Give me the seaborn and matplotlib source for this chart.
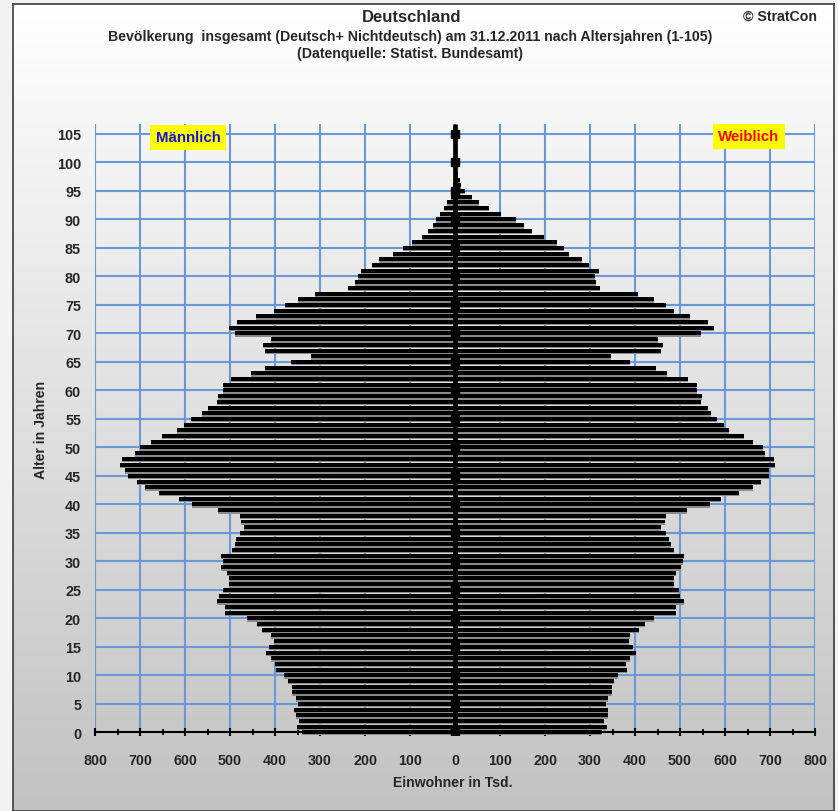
import matplotlib
matplotlib.use("Agg")
import matplotlib.pyplot as plt
import numpy as np
import pandas as pd
import seaborn as sns
from matplotlib.ticker import MultipleLocator

ages = list(range(0, 106))

# Einwohner in Tsd.
male = [340, 351, 346, 354, 357, 348, 354, 363, 363, 371,
        380, 397, 400, 408, 420, 414, 402, 408, 428, 440,
        463, 512, 512, 529, 524, 515, 503, 503, 506, 521,
        516, 521, 495, 489, 487, 478, 470, 475, 478, 527,
        584, 613, 658, 690, 707, 727, 733, 744, 739, 712,
        699, 676, 652, 618, 603, 587, 563, 548, 529, 526,
        515, 515, 498, 454, 422, 365, 320, 422, 426, 409,
        488, 503, 485, 442, 402, 378, 348, 311, 237, 223,
        215, 209, 185, 168, 137, 115, 96, 74, 59, 50,
        42, 33, 24, 17, 10, 5, 4, 3, 2, 1.5,
        1, 0.6, 0.4, 0.3, 0.2, 0.1]
female = [326, 337, 332, 340, 340, 335, 340, 349, 349, 354,
          363, 383, 380, 389, 403, 395, 386, 389, 409, 423,
          443, 492, 492, 509, 500, 498, 486, 486, 492, 503,
          506, 509, 486, 480, 475, 469, 457, 466, 469, 515,
          566, 592, 632, 663, 680, 698, 698, 712, 709, 689,
          684, 663, 643, 609, 598, 583, 569, 563, 546, 549,
          537, 537, 517, 472, 446, 388, 346, 457, 463, 452,
          546, 575, 563, 523, 486, 469, 443, 406, 323, 314,
          311, 320, 297, 283, 254, 242, 226, 198, 171, 154,
          135, 102, 76, 53, 37, 22, 13, 10, 7, 5,
          4, 2, 1.5, 1, 0.5, 0.3]

x_ticks = list(range(-800, 801, 100))
y_ticks = list(range(0, 106, 5))

sns.set_style("white")
plt.rcParams["font.family"] = ["Liberation Sans", "DejaVu Sans"]
plt.rcParams["font.weight"] = "bold"

df = pd.DataFrame({"age": ages, "male": male, "female": female})
df["male_neg"] = -df["male"]
df["shadow_y"] = df["age"] - 0.25

W, H = 838, 812
fig = plt.figure(figsize=(W / 100, H / 100), dpi=100)
fig.patch.set_facecolor("#f3f3f3")

# chart area with vertical grey gradient and frame
bg = fig.add_axes([13 / W, 0, (834 - 13) / W, 1 - 5 / H])
grad = np.linspace(0, 1, 256).reshape(-1, 1)
bg.imshow(grad, cmap=matplotlib.colors.LinearSegmentedColormap.from_list(
    "g", ["#ffffff", "#c2c2c2"]), aspect="auto", extent=[0, 1, 0, 1])
bg.set_xticks([])
bg.set_yticks([])
for s in bg.spines.values():
    s.set_color("#3c3c3c")
    s.set_linewidth(1.2)

ax = fig.add_axes([95 / W, 0.09335, 720 / W, 0.7527])
ax.set_facecolor("none")

grid_col = "#6a98d4"
for v in x_ticks:
    ax.axvline(v, color=grid_col, lw=1.5, zorder=0)
for v in y_ticks[1:]:
    ax.axhline(v, color=grid_col, lw=1.5, zorder=0)

# shadows then bars
for col in ["male_neg", "female"]:
    sns.barplot(data=df, x=col, y="shadow_y", orient="y", native_scale=True,
                width=0.7, color="#8a8a8a", saturation=1, errorbar=None,
                linewidth=0, ax=ax, zorder=2)
    sns.barplot(data=df, x=col, y="age", orient="y", native_scale=True,
                width=0.7, color="black", saturation=1, errorbar=None,
                linewidth=0, ax=ax, zorder=3)

top = 106.75
ax.set_xlim(-800, 800)
ax.set_ylim(-0.5, top)

# central age axis
ax.vlines(0, 0, top, color="black", lw=3.4, zorder=5)
ax.plot(np.zeros(len(y_ticks)), y_ticks, "s", ms=5.5, color="black", zorder=6)

for s in ["left", "right", "top"]:
    ax.spines[s].set_visible(False)
ax.spines["bottom"].set_position(("data", 0))
ax.spines["bottom"].set_color("black")
ax.spines["bottom"].set_linewidth(1.5)
ax.spines["bottom"].set_zorder(7)

ax.set_xticks(x_ticks)
ax.set_xticklabels([str(abs(v)) for v in x_ticks])
ax.xaxis.set_minor_locator(MultipleLocator(50))
ax.tick_params(axis="x", which="both", bottom=True, top=False)
ax.tick_params(axis="x", which="major", direction="inout", length=5.5,
               width=1.5, color="black", pad=12, labelsize=10.3)
ax.tick_params(axis="x", which="minor", direction="inout", length=4,
               width=1.3, color="black")
ax.set_yticks(y_ticks)
ax.set_yticklabels([str(v) for v in y_ticks])
ax.tick_params(axis="y", left=False, length=0, pad=10, labelsize=10.4)
for lbl in ax.get_xticklabels() + ax.get_yticklabels():
    lbl.set_fontweight("bold")
ax.set_xlabel("")
ax.set_ylabel("")

fig.text(453 / W, 1 - 783 / H, "Einwohner in Tsd.", ha="center", va="center",
         fontsize=10.1, fontweight="bold")
fig.text(41 / W, 1 - 430 / H, "Alter in Jahren", ha="center", va="center",
         rotation=90, fontsize=10.1, fontweight="bold")

ax.text(-593, 104.4, "Männlich", color="#1414d8", fontsize=10.8,
        fontweight="bold", ha="center", va="center", zorder=8,
        bbox=dict(facecolor="#ffff00", edgecolor="none", pad=4))
ax.text(653, 104.6, "Weiblich", color="#ff0000", fontsize=10.8,
        fontweight="bold", ha="center", va="center", zorder=8,
        bbox=dict(facecolor="#ffff00", edgecolor="none", pad=4))

fig.text(412 / W, 1 - 18 / H, "Deutschland", ha="center", va="center",
         fontsize=12, fontweight="bold")
fig.text(410 / W, 1 - 37 / H,
         "Bevölkerung  insgesamt (Deutsch+ Nichtdeutsch) am 31.12.2011 nach Altersjahren (1-105)",
         ha="center", va="center", fontsize=10.2, fontweight="bold")
fig.text(410 / W, 1 - 54 / H, "(Datenquelle: Statist. Bundesamt)",
         ha="center", va="center", fontsize=10.2, fontweight="bold")
fig.text(780 / W, 1 - 17 / H, "© StratCon", ha="center", va="center",
         fontsize=10.2, fontweight="bold")

fig.savefig("out.png", dpi=100)
